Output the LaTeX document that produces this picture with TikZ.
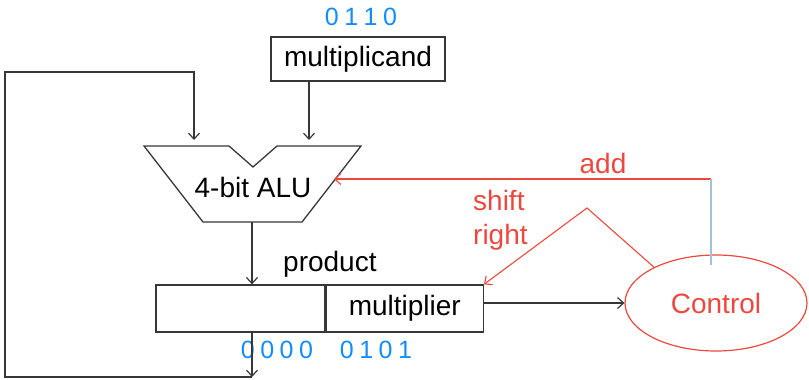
\documentclass[tikz,border=0pt]{standalone}
\usepackage{fontspec}
\setmainfont{Liberation Sans}
\usepackage{tikz}
\usetikzlibrary{arrows.meta,positioning,shapes.geometric}
\definecolor{ctrlred}{RGB}{236,72,62}
\definecolor{bitblue}{RGB}{20,140,250}
\definecolor{wiregray}{RGB}{55,55,55}
\definecolor{tapblue}{RGB}{160,195,215}
\newcommand{\bitgap}{\hspace{0.22em}}
\begin{document}
\begin{tikzpicture}[
    x=1pt, y=-1pt,
    >={Straight Barb[length=6pt,width=11pt]},
    lbl/.style={font=\fontsize{28}{34}\selectfont, inner sep=0pt},
    bits/.style={font=\fontsize{25}{28}\selectfont, text=bitblue, inner sep=0pt},
    reg/.style={draw=wiregray, line width=1.3pt, lbl, minimum height=47pt},
    wire/.style={->, wiregray, line width=1.2pt},
    ctl/.style={->, ctrlred, line width=1.1pt}
]
\useasboundingbox (0,0) rectangle (809,380);
\node[reg, minimum width=174pt, minimum height=44pt] (mcand) at (358,59) {multiplicand};
\node[bits] (mcandbits) at (361,17) {0\bitgap 1\bitgap 1\bitgap 0};
\draw[wiregray, line width=1.3pt] (144,146) -- (229,146) -- (253,167) -- (277,146) -- (361,146) -- (302,222) -- (203,222) -- cycle;
\node[lbl] (alu) at (253,187) {4-bit ALU};
\coordinate (aluinA) at (194,140);
\coordinate (aluinB) at (309,140);
\coordinate (aluout) at (252,222);
\coordinate (aluadd) at (334,179);
\node[reg, minimum width=169pt] (prod) at (240.5,308.5) {};
\node[reg, minimum width=157pt, right=0pt of prod] (mult) {multiplier};
\node[lbl, anchor=south west] (prodlbl) at (283,278) {product};
\node[bits] (prodbits) at (277,350) {0\bitgap 0\bitgap 0\bitgap 0};
\node[bits] (multbits) at (376,350) {0\bitgap 1\bitgap 0\bitgap 1};
\node[draw=ctrlred, line width=1.2pt, ellipse, minimum width=182pt, minimum height=96pt, lbl, text=ctrlred] (ctrl) at (716,303) {Control};
\coordinate (addtap) at (711,179);
\coordinate (peak) at (587,208);
\coordinate (loopbot) at (252,377);
\node[lbl, text=ctrlred] (addlbl) at (603,163) {add};
\node[lbl, text=ctrlred, align=left, anchor=west] (shiftlbl) at (473,220) {shift\\right};
\draw[wire] (mcand.south -| aluinB) -- (aluinB);
\draw[wire] (aluout) -- (aluout |- prod.north);
\draw[wire] (prod.south -| aluout) -- (loopbot);
\draw[wire] (loopbot) -| (5,72) -| (aluinA);
\draw[wire] (ctrl.west -| mult.east) -- (ctrl.west);
\draw[ctl] (addtap) -- (aluadd);
\draw[tapblue, line width=1.1pt] (addtap) -- ++(0,86);
\draw[ctl] (ctrl.150) -- (peak) -- (mult.north east);
\end{tikzpicture}
\end{document}
